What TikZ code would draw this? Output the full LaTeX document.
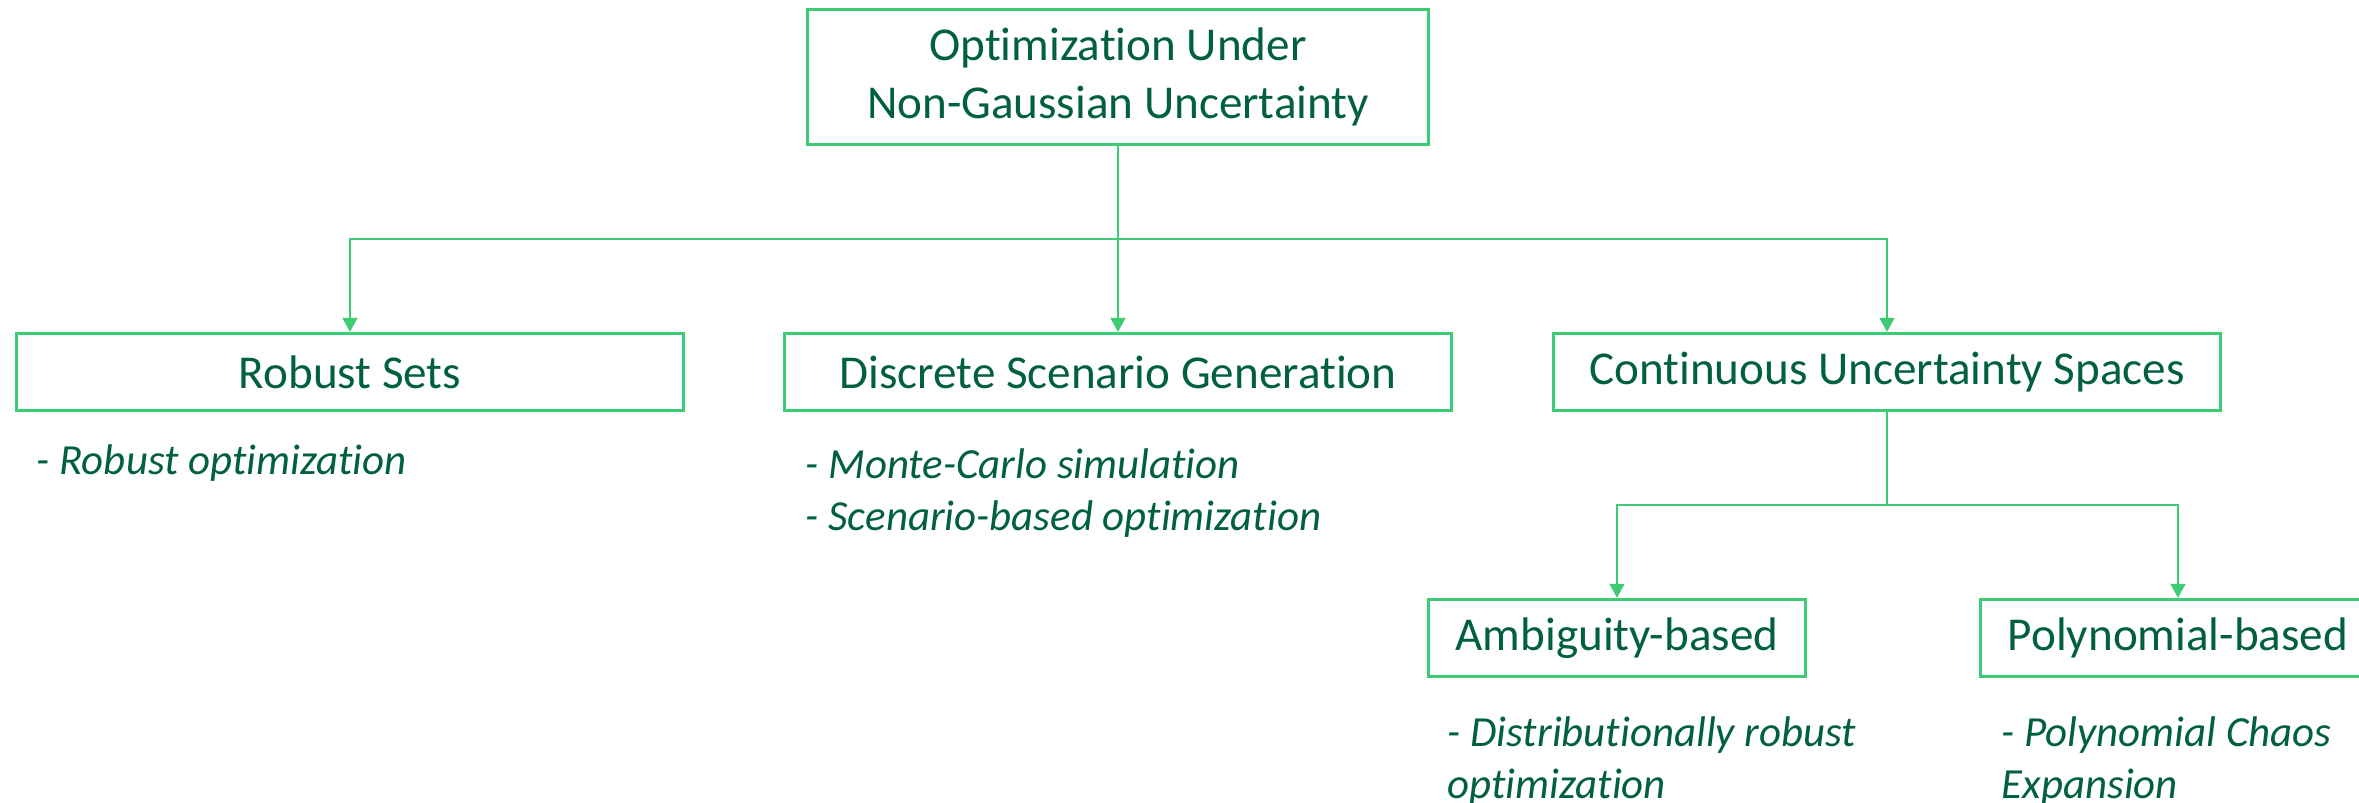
\documentclass[tikz,border=0pt]{standalone}
\usepackage{fontspec}
\setmainfont{Carlito}[Ligatures=NoCommon]
\usetikzlibrary{arrows.meta}

\definecolor{boxgreen}{RGB}{61,204,117}
\definecolor{textgreen}{RGB}{0,96,64}

\begin{document}
\begin{tikzpicture}[x=0.01cm,y=-0.01cm,
  box/.style={draw=boxgreen, line width=0.9pt, text=textgreen, inner sep=0pt,
    font=\fontsize{13.4}{16.4}\selectfont, align=center, minimum height=0.77cm},
  note/.style={text=textgreen, inner sep=0pt, align=left,
    font=\fontsize{12.2}{14.8}\selectfont\itshape},
  link/.style={draw=boxgreen, line width=0.6pt, -{Triangle[length=4pt, width=4.2pt]}}]
\useasboundingbox (0,0) rectangle (2359,802);
\clip (0,0) rectangle (2359,802);
% tree of boxes
\node[box, minimum width=6.21cm, minimum height=1.35cm] (top) at (1118,77) {Optimization Under\\Non-Gaussian Uncertainty};
\node[box, minimum width=6.66cm] (robust) at (350,372) {Robust Sets};
\node[box, minimum width=6.66cm] (discrete) at (1118,372) {Discrete Scenario Generation};
\node[box, minimum width=6.66cm] (cont) at (1887,372) {Continuous Uncertainty Spaces};
\node[box, minimum width=3.77cm] (ambig) at (1617,638) {Ambiguity-based};
\node[box, minimum width=3.94cm] (poly) at (2178,638) {Polynomial-based};
% notes
\node[note, anchor=west] (n1) at (36,463) {- Robust optimization};
\node[note, anchor=north west] (n2) at (805,448) {- Monte-Carlo simulation\\- Scenario-based optimization};
\node[note, anchor=north west] (n3) at (1447,716) {- Distributionally robust\\optimization};
\node[note, anchor=north west] (n4) at (2001,716) {- Polynomial Chaos\\Expansion};
% connectors
\coordinate (split1) at (1118,239);
\coordinate (split2) at (1887,505);
\draw[boxgreen, line width=0.6pt] (top.south) -- (split1);
\draw[link] (split1) -| (robust.north);
\draw[link] (split1) -- (discrete.north);
\draw[link] (split1) -| (cont.north);
\draw[boxgreen, line width=0.6pt] (cont.south) -- (split2);
\draw[link] (split2) -| (ambig.north);
\draw[link] (split2) -| (poly.north);
\end{tikzpicture}
\end{document}
